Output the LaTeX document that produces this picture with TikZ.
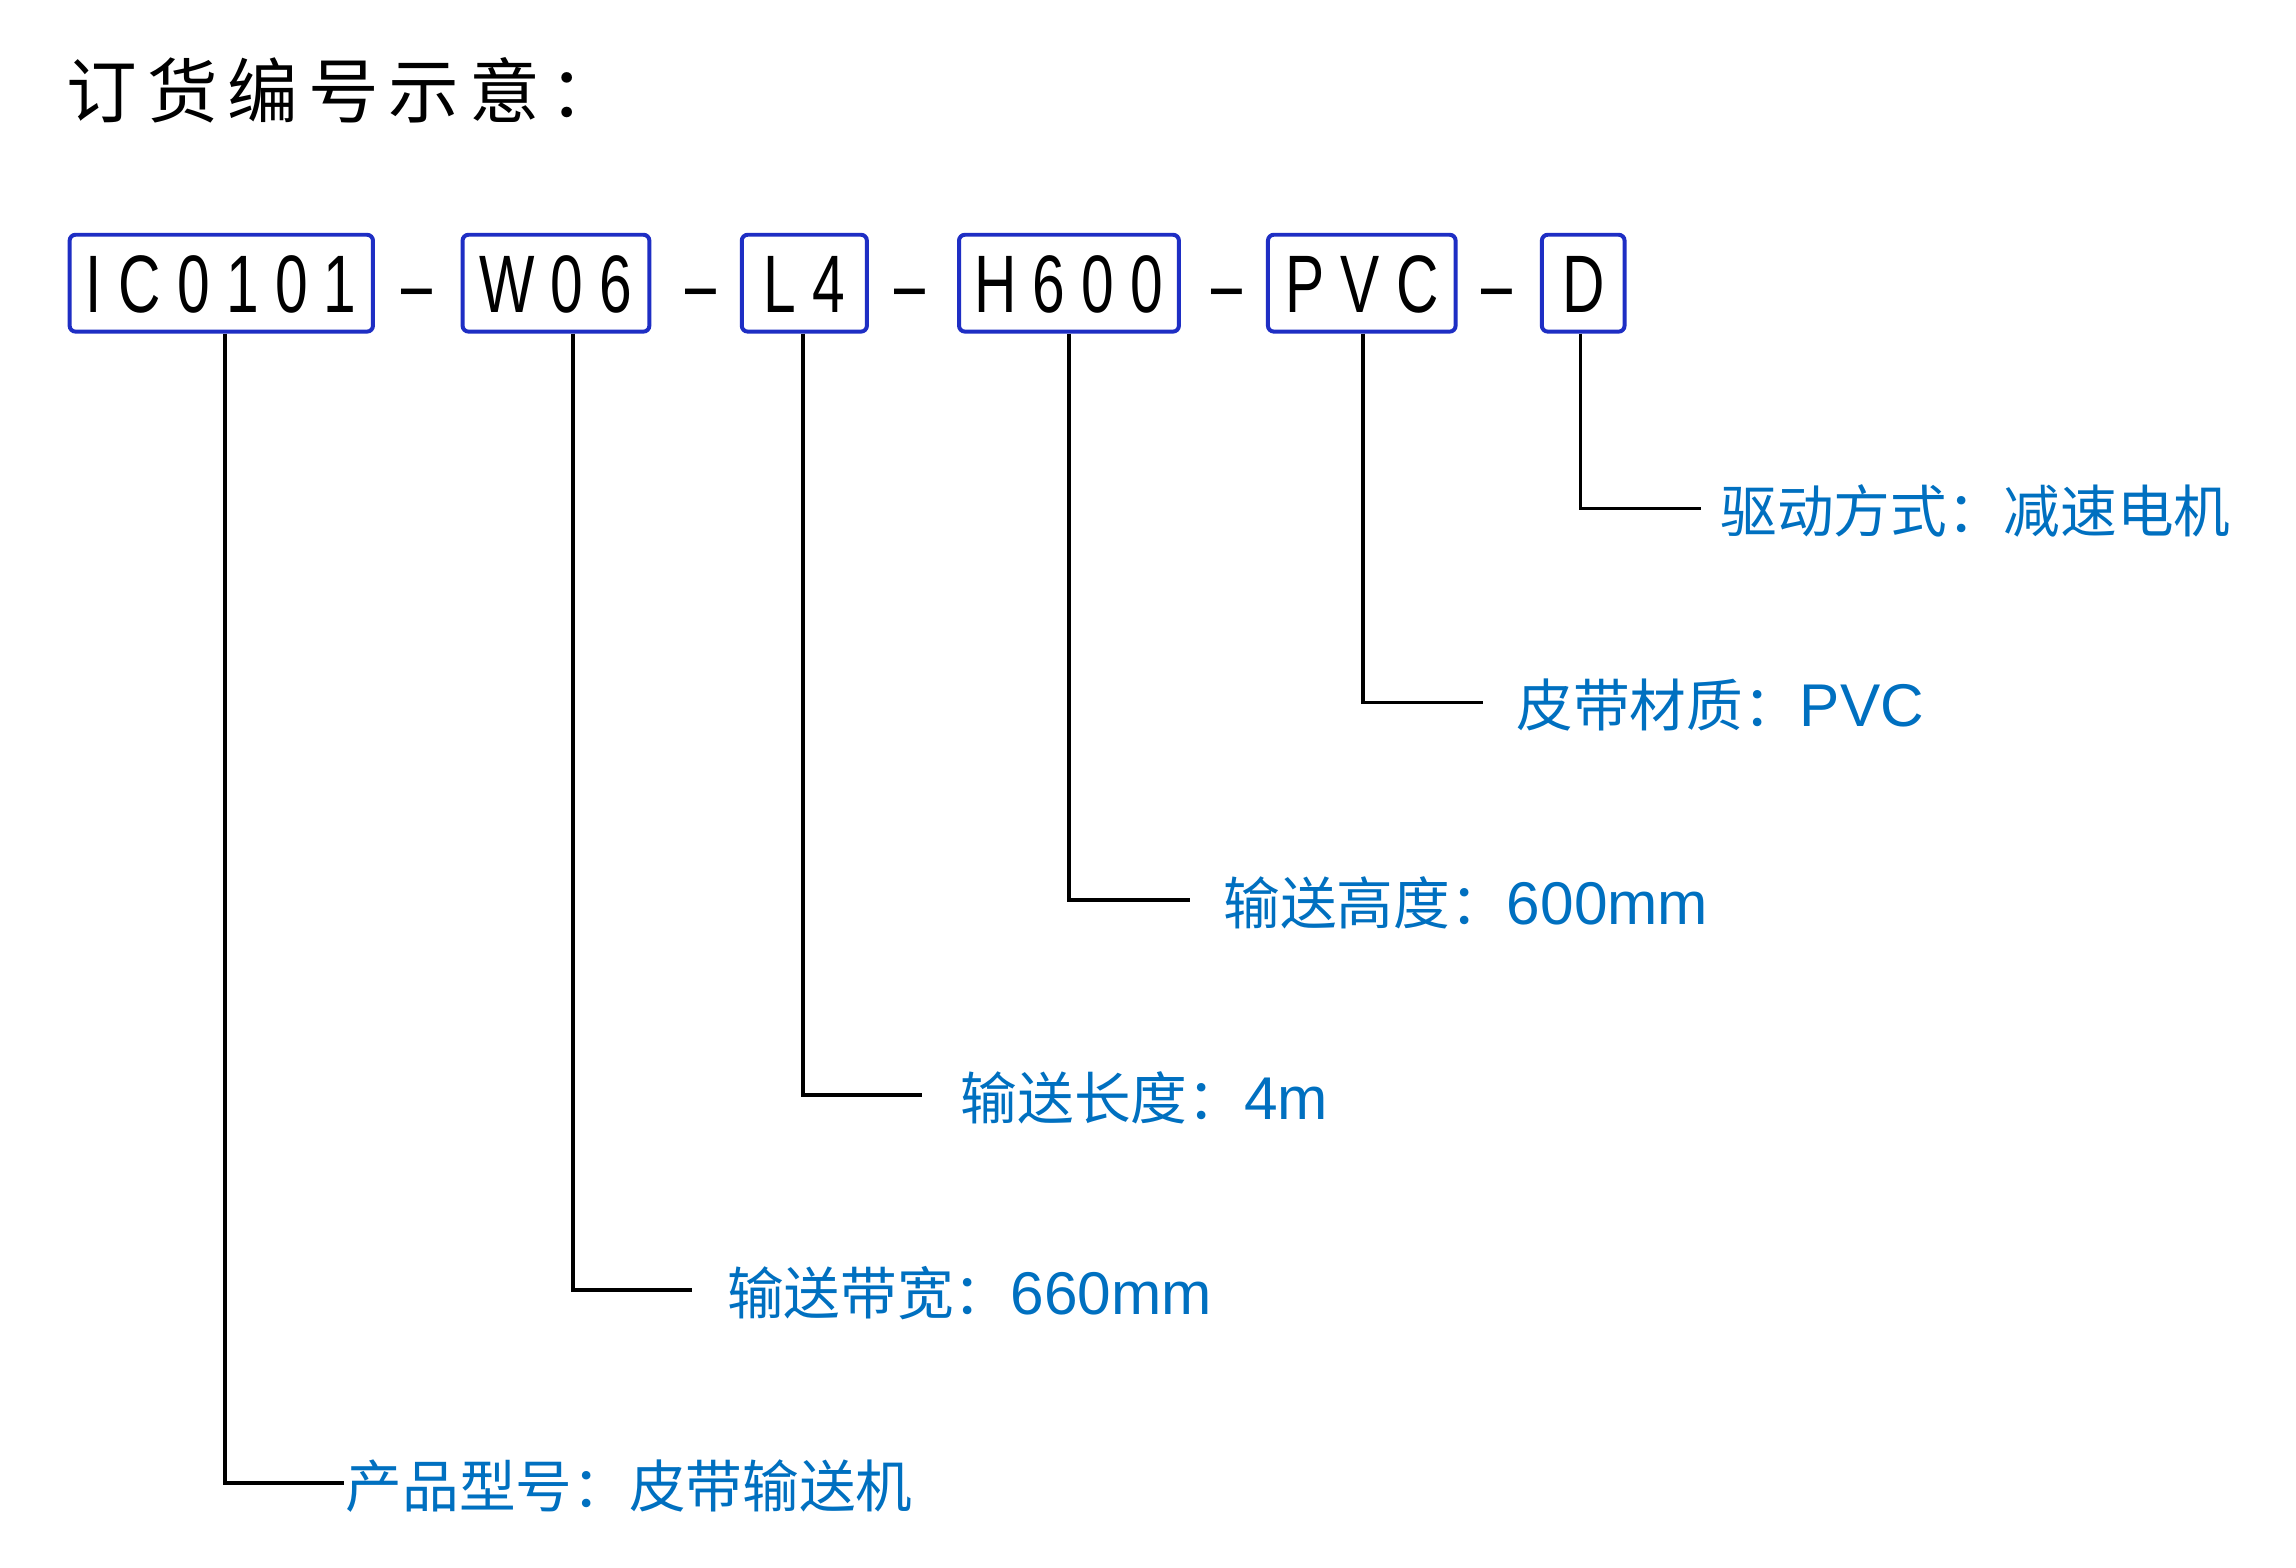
\documentclass[tikz,border=0pt]{standalone}
\usepackage{fontspec}
\newfontfamily\cjk{Noto Sans CJK SC}
\newfontfamily\cjktitle[LetterSpace=14]{Noto Sans CJK SC}
\newfontfamily\lat{Liberation Sans}
\newfontfamily\codefont[FakeStretch=0.72,LetterSpace=20]{Liberation Sans}
\newfontfamily\dashfont[FakeStretch=0.68]{Liberation Sans}
\definecolor{boxblue}{RGB}{30,46,196}
\definecolor{txtblue}{RGB}{0,112,192}
\newcommand\lbl[2]{#1{\fontsize{20.5pt}{24pt}\lat #2}}
\tikzset{
  codebox/.style={draw=boxblue, line width=1.35pt, rounded corners=2pt, inner sep=0pt,
    minimum height=32.9pt, text height=19.8pt, text depth=0pt,
    font=\fontsize{27.7pt}{30pt}\codefont},
  sep/.style={anchor=base, inner sep=0pt, font=\fontsize{27.7pt}{30pt}\dashfont},
  lab/.style={anchor=base west, inner sep=0pt, text=txtblue,
    font=\fontsize{19.25pt}{23pt}\cjk},
  conn/.style={draw=black, line width=1.25pt}
}
\begin{document}
\begin{tikzpicture}[x=0.5pt,y=-0.5pt]
\useasboundingbox[fill=white] (0,0) rectangle (1560,1064.7);
% title
\node[anchor=base west, inner sep=0pt, font=\fontsize{24pt}{28pt}\cjktitle] (title) at (45,80) {订货编号示意：};
% code boxes
\node[codebox, minimum width=103.05pt] (b1) at (150.35,192.4) {IC0101};
\node[codebox, minimum width=63.45pt]  (b2) at (377.75,192.4) {W06};
\node[codebox, minimum width=42.5pt]   (b3) at (546.5,192.4) {L4};
\node[codebox, minimum width=74.7pt]   (b4) at (726.3,192.4) {H600};
\node[codebox, minimum width=63.75pt]  (b5) at (925.25,192.4) {PVC};
\node[codebox, minimum width=28.1pt]   (b6) at (1075.7,192.4) {D};
% separators
\node[sep] (s1) at (283.6,212.2) {–};
\node[sep] (s2) at (476,212.2) {–};
\node[sep] (s3) at (618,212.2) {–};
\node[sep] (s4) at (833.5,212.2) {–};
\node[sep] (s5) at (1017,212.2) {–};
% labels
\node[lab] (l6) at (1168.5,362.1) {\lbl{驱动方式：减速电机}{}};
\node[lab] (l5) at (1030,493.9) {\lbl{皮带材质：}{PVC}};
\node[lab] (l4) at (831,628) {\lbl{输送高度：}{600mm}};
\node[lab] (l3) at (652.5,760.5) {\lbl{输送长度：}{4m}};
\node[lab] (l2) at (493.7,893) {\lbl{输送带宽：}{660mm}};
\node[lab] (l1) at (234.5,1024) {\lbl{产品型号：皮带输送机}{}};
% connector corners and ends
\coordinate (c1) at (152.8,1007.5);  \coordinate (k1) at (234,1007.5);
\coordinate (c2) at (389.3,876.5);   \coordinate (k2) at (470.4,876.5);
\coordinate (c3) at (545.8,744);     \coordinate (k3) at (626.5,744);
\coordinate (c4) at (726.5,611.5);   \coordinate (k4) at (808.5,611.5);
\coordinate (c5) at (926,477.4);     \coordinate (k5) at (1007.8,477.4);
\coordinate (c6) at (1073.8,345.6);  \coordinate (k6) at (1155.5,345.6);
\draw[conn] (b1.south -| c1) -- (c1) -- (k1);
\draw[conn] (b2.south -| c2) -- (c2) -- (k2);
\draw[conn] (b3.south -| c3) -- (c3) -- (k3);
\draw[conn] (b4.south -| c4) -- (c4) -- (k4);
\draw[conn] (b5.south -| c5) -- (c5) -- (k5);
\draw[conn] (b6.south -| c6) -- (c6) -- (k6);
\end{tikzpicture}
\end{document}
